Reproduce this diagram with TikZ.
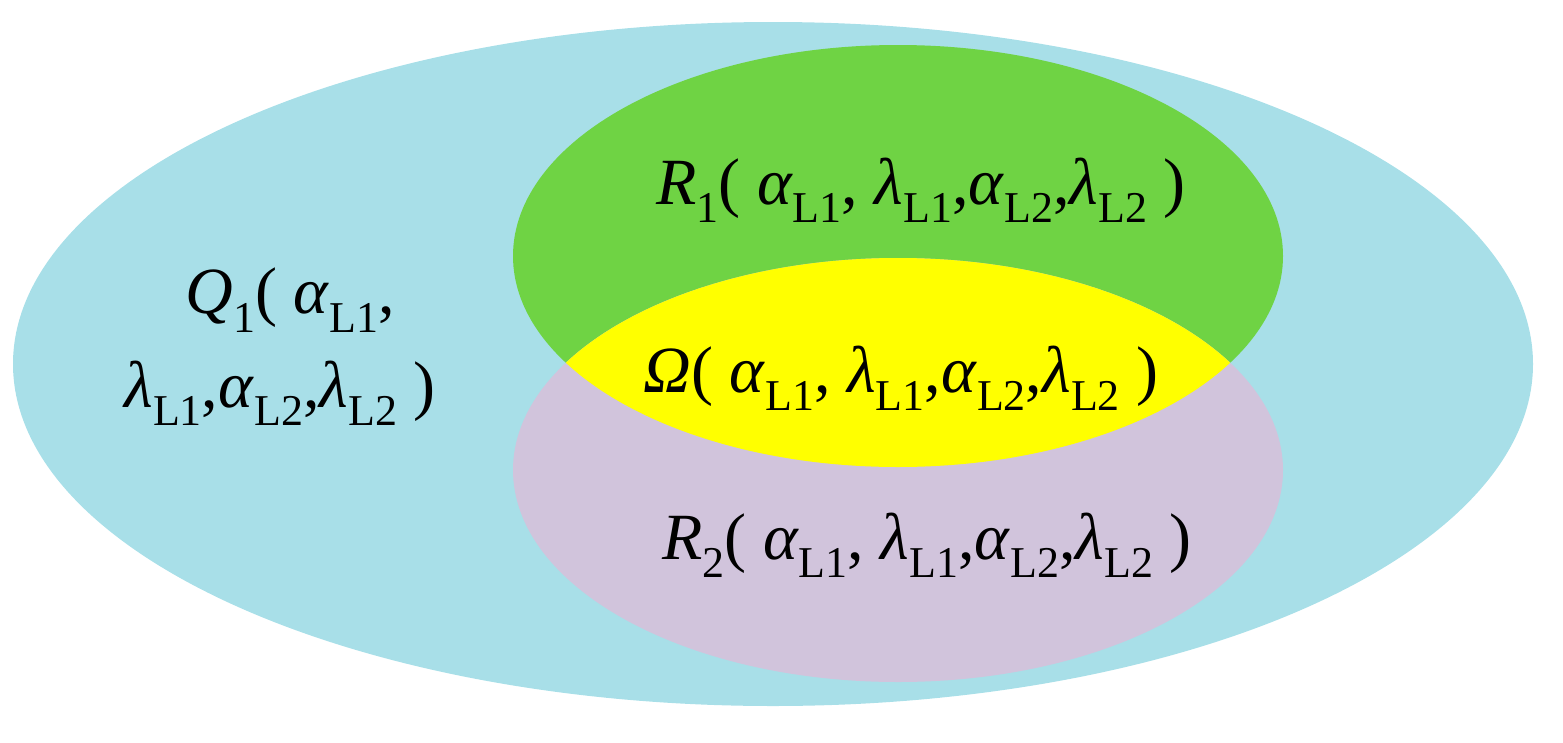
\documentclass[tikz,border=0pt]{standalone}
\usepackage{fontspec}
\setmainfont{Liberation Serif}
\definecolor{cyanbg}{HTML}{A8DFE8}
\definecolor{greenr}{HTML}{6FD344}
\definecolor{purpr}{HTML}{D1C4DC}
\definecolor{yelr}{HTML}{FFFF00}
\newcommand\lsub[1]{\raisebox{-0.28em}{\fontsize{44}{44}\selectfont #1}}
\newcommand\argsL{(\ \textit{α}\lsub{L1}, \textit{λ}\lsub{L1},\textit{α}\lsub{L2},\textit{λ}\lsub{L2} )}
\begin{document}
\begin{tikzpicture}[x=1pt,y=-1pt,lab/.style={font=\fontsize{66}{80}\selectfont,inner sep=0pt}]
\useasboundingbox (0,0) rectangle (1563,742);
\fill[cyanbg] (773,364) ellipse [x radius=760,y radius=342];
\fill[greenr] (898,256) ellipse [x radius=385,y radius=211];
\fill[purpr] (898,470) ellipse [x radius=385,y radius=212];
\begin{scope}
\clip (898,470) ellipse [x radius=385,y radius=212];
\fill[yelr] (898,256) ellipse [x radius=385,y radius=211];
\end{scope}
\node[lab] (r1) at (921,190) {\textit{R}\lsub{1}\argsL};
\node[lab] (om) at (901,378) {\textit{Ω}\argsL};
\node[lab] (r2) at (927,545) {\textit{R}\lsub{2}\argsL};
\node[lab] (q1a) at (290,300) {\textit{Q}\lsub{1}(\ \textit{α}\lsub{L1},};
\node[lab] (q1b) at (280,393) {\textit{λ}\lsub{L1},\textit{α}\lsub{L2},\textit{λ}\lsub{L2} )};
\end{tikzpicture}
\end{document}
